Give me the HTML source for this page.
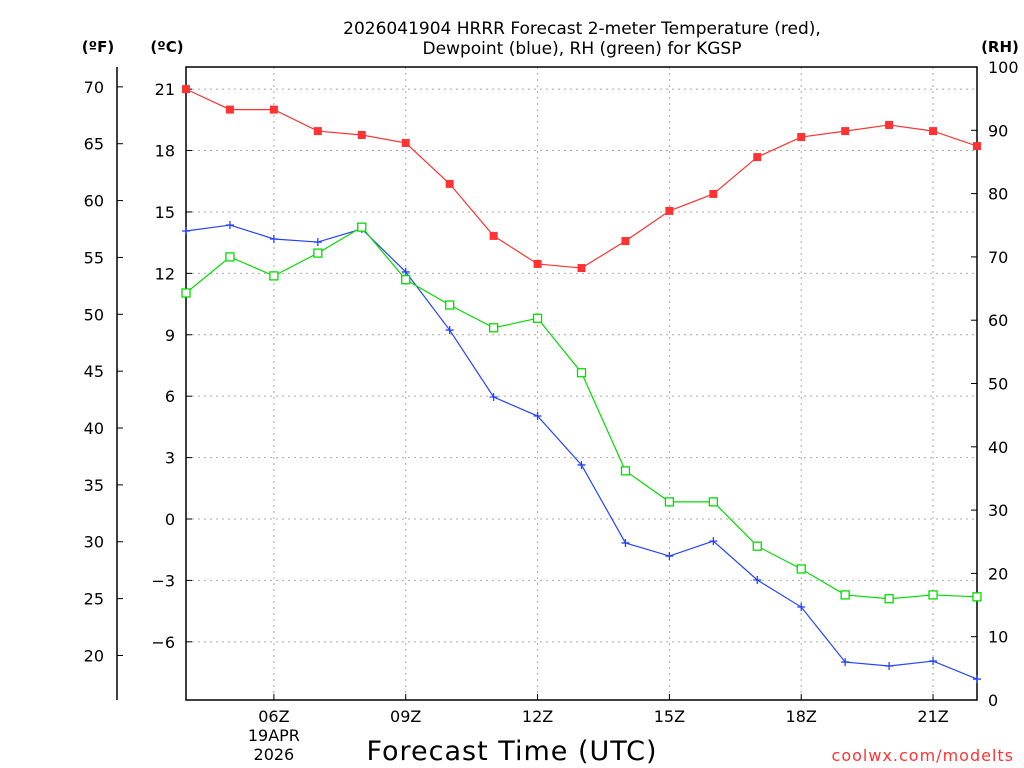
<!DOCTYPE html>
<html><head><meta charset="utf-8"><style>
body{margin:0;background:#fff;}
svg{display:block;font-family:"DejaVu Sans","Liberation Sans",sans-serif;}
</style></head><body>
<svg id="c" width="1024" height="768"></svg>
<script>
const hours=[4,5,6,7,8,9,10,11,12,13,14,15,16,17,18,19,20,21,22];
const tempC=[21.0,20.0,20.0,18.95,18.76,18.37,16.37,13.83,12.46,12.26,13.58,15.05,15.88,17.68,18.66,18.95,19.25,18.95,18.22];
const dewC=[14.07,14.36,13.68,13.53,14.17,12.07,9.23,5.96,5.03,2.64,-1.17,-1.81,-1.08,-2.98,-4.30,-6.99,-7.18,-6.94,-7.82];
const rh=[64.3,70.0,67.0,70.6,74.7,66.4,62.4,58.8,60.3,51.7,36.2,31.3,31.3,24.3,20.7,16.6,16.0,16.6,16.3];
const cTicks=[21,18,15,12,9,6,3,0,-3,-6];
const fTicks=[70,65,60,55,50,45,40,35,30,25,20];
const rhTicks=[0,10,20,30,40,50,60,70,80,90,100];
const xTicks=[6,9,12,15,18,21];
const xLabels=["06Z","09Z","12Z","15Z","18Z","21Z"];

const L=186,R=977,T=67,B=700;
const X=h=>L+(h-4)*(R-L)/18;
const YC=c=>519-c*20.47;
const YF=f=>YC((f-32)*5/9);
const YR=r=>B-r*(B-T)/100;
const s=document.getElementById('c');
const NS='http://www.w3.org/2000/svg';
function el(t,a,txt){const e=document.createElementNS(NS,t);for(const k in a)e.setAttribute(k,a[k]);if(txt!==undefined)e.textContent=txt;s.appendChild(e);return e;}

// grid
cTicks.forEach(c=>{const g=el('line',{x1:L,x2:R,y1:YC(c),y2:YC(c),stroke:'#aaa','stroke-dasharray':'2,4'});

});
xTicks.forEach(h=>{const g=el('line',{x1:X(h),x2:X(h),y1:T,y2:B,stroke:'#aaa','stroke-dasharray':'2,4'});

});

// frame
let f=el('rect',{x:L,y:T,width:R-L,height:B-T,fill:'none',stroke:'#000','stroke-width':1.5});


let fa=el('line',{x1:117,x2:117,y1:T,y2:B,stroke:'#000','stroke-width':1.5});



// ticks labels
cTicks.forEach(c=>{const t=el('text',{x:175,y:YC(c)+6,'text-anchor':'end','font-size':16},c<0?'−'+(-c):String(c));


el('line',{x1:L,x2:L+6,y1:YC(c),y2:YC(c),stroke:'#000'});});
fTicks.forEach(v=>{const t=el('text',{x:104,y:YF(v)+6,'text-anchor':'end','font-size':16},String(v));


el('line',{x1:117,x2:123,y1:YF(v),y2:YF(v),stroke:'#000'});});
rhTicks.forEach(v=>{const t=el('text',{x:988,y:YR(v)+6,'font-size':16},String(v));


el('line',{x1:R-6,x2:R,y1:YR(v),y2:YR(v),stroke:'#000'});});
xTicks.forEach((h,i)=>{const t=el('text',{x:X(h),y:722,'text-anchor':'middle','font-size':16},xLabels[i]);


el('line',{x1:X(h),x2:X(h),y1:B,y2:B-6,stroke:'#000'});});
[["19APR",741],["2026",760]].forEach(d=>{const t=el('text',{x:X(6),y:d[1],'text-anchor':'middle','font-size':16},d[0]);

});

// titles
[["2026041904 HRRR Forecast 2-meter Temperature (red),",34],["Dewpoint (blue), RH (green) for KGSP",54]].forEach(d=>{const t=el('text',{x:582,y:d[1],'text-anchor':'middle','font-size':17},d[0]);

});
[["(ºF)",98],["(ºC)",167],["(RH)",1000]].forEach(d=>{const t=el('text',{x:d[1],y:52,'text-anchor':'middle','font-size':15,'font-weight':'bold'},d[0]);

});
let xt=el('text',{x:512,y:760,'text-anchor':'middle','font-size':27,'letter-spacing':1},'Forecast Time (UTC)');


let cr=el('text',{x:1014,y:761,'text-anchor':'end','font-size':16,fill:'#f33','letter-spacing':1},'coolwx.com/modelts');



// series
function line(vals,yf,col,name){
 const p=el('polyline',{points:vals.map((v,i)=>X(hours[i])+','+yf(v)).join(' '),fill:'none',stroke:col,'stroke-width':1.2});
 
 
}
line(tempC,YC,'#f33','temperature');
line(dewC,YC,'#24f','dewpoint');
line(rh,YR,'#0d0','rh');
tempC.forEach((v,i)=>{const m=el('rect',{x:X(hours[i])-4,y:YC(v)-4,width:8,height:8,fill:'#f33'});

});
dewC.forEach((v,i)=>{const x=X(hours[i]),y=YC(v);const m=el('path',{d:`M${x-4},${y}H${x+4}M${x},${y-4}V${y+4}`,stroke:'#24f','stroke-width':1.3});

});
rh.forEach((v,i)=>{const m=el('rect',{x:X(hours[i])-4,y:YR(v)-4,width:8,height:8,fill:'#fff',stroke:'#0d0','stroke-width':1.3});

});
</script>
</body></html>
